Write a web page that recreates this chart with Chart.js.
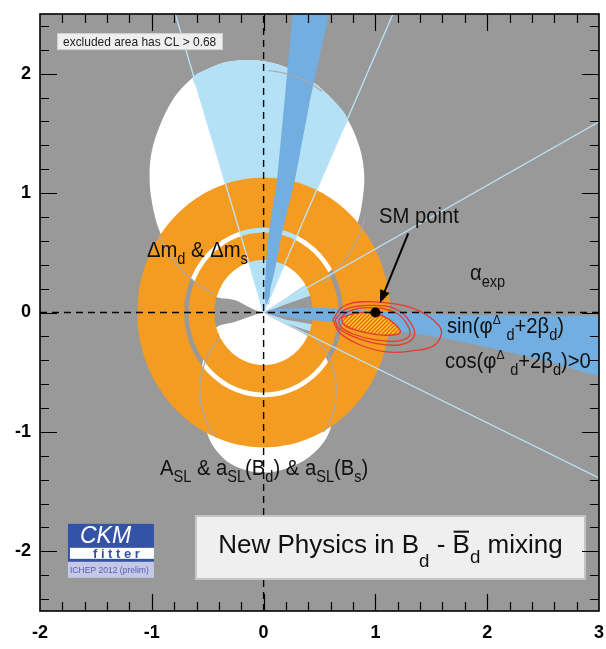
<!DOCTYPE html>
<html>
<head>
<meta charset="utf-8">
<script src="https://cdn.jsdelivr.net/npm/chart.js@4.4.0/dist/chart.umd.min.js"></script>
<style>
  html, body { margin: 0; padding: 0; background: #ffffff; }
  canvas { display: block; }
</style>
</head>
<body>
<canvas id="ckm" width="606" height="649"></canvas>
<script>
// ---- axes ----
const xRange = [-2, 3];
const yRange = [-2.5, 2.5];
const xTicks = [-2, -1, 0, 1, 2, 3];
const yTicks = [-2, -1, 0, 1, 2];

// ---- a_SL allowed region: two lobes meeting at the origin ----
const aslUpperLobe = [[0,0],[0.17,0.1],[0.34,0.21],[0.5,0.29],[0.62,0.37],[0.75,0.56],[0.85,0.78],[0.89,0.98],
  [0.9,1.16],[0.86,1.38],[0.75,1.62],[0.62,1.78],[0.44,1.93],[0.21,2.05],[-0.05,2.11],[-0.32,2.1],[-0.5,2.04],
  [-0.63,1.97],[-0.8,1.8],[-0.93,1.56],[-1.0,1.35],[-1.02,1.15],[-1.0,0.93],[-0.93,0.68],[-0.8,0.46],
  [-0.64,0.28],[-0.43,0.135],[-0.26,0.105],[-0.14,0.05],[-0.05,0.01],[0,0]];
const aslLowerLobe = [[0,0],[0.05,-0.03],[0.2,-0.1],[0.43,-0.22],[0.55,-0.36],[0.61,-0.55],[0.63,-0.76],
  [0.6,-0.97],[0.5,-1.13],[0.3,-1.27],[0,-1.34],[-0.27,-1.28],[-0.45,-1.12],[-0.53,-0.92],[-0.55,-0.7],
  [-0.55,-0.45],[-0.5,-0.28],[-0.43,-0.13],[-0.26,-0.08],[-0.14,-0.04],[-0.05,-0.01],[0,0]];
// individual a_SL circles: [centre x, centre y, radius] and visible arcs in degrees
const aslUpperCircle = [-0.04, 1.05, 0.98];
const aslUpperArcs = [[204, 246], [-55, -15], [55, 85]];
const aslLowerCircle = [0.04, -0.65, 0.61];
const aslLowerArcs = [[135, 222], [-35, 50]];

// ---- alpha constraint ----
const alphaWedgeUp = [[0,0],[0.37,0.8],[0.7,1.515],[0.75,1.62],[0.62,1.78],[0.44,1.93],[0.21,2.05],[-0.05,2.11],
  [-0.32,2.1],[-0.5,2.04],[-0.63,1.97],[-0.6,1.875],[-0.3,0.94],[0,0]];
const alphaSliverUp = [[0.02,0.01],[0.17,0.1],[0.34,0.21],[0.45,0.27],[0.45,0.15],[0.2,0.07],[0.05,0.015]];
const alphaSliverDown = [[0.04,-0.01],[0.2,-0.06],[0.45,-0.1],[0.45,-0.17],[0.2,-0.09],[0.06,-0.03]];
const alphaRayEnds = [[-0.79,2.5],[1.157,2.5],[3,1.598],[3,-1.386]];

// ---- Delta m_d & Delta m_s: two annuli around the origin [inner r, outer r] ----
const deltaMRings = [[0.44, 0.67], [0.71, 1.13]];

// ---- sin(phi_d + 2 beta_d) solutions ----
const sin2bStripe = [[0.02,0.07],[0.01,0.15],[0.02,0.4],[0.05,0.69],[0.12,1.11],[0.19,1.8],[0.26,2.5],
  [0.586,2.5],[0.42,1.8],[0.28,1.11],[0.17,0.69],[0.1,0.35],[0.06,0.2],[0.05,0.07]];
const sin2bBand = [[0.03,0.02],[0.3,0.04],[0.6,0.035],[1.0,0.01],[1.7,-0.02],[3,-0.03],
  [3,-0.535],[2.5,-0.4],[2.0,-0.29],[1.7,-0.23],[1.0,-0.12],[0.6,-0.08],[0.3,-0.05],[0.05,-0.01]];

// ---- combined fit ----
const fitCore = [[0.70,-0.044],[0.80,-0.01],[0.95,0.0],[1.07,-0.03],[1.18,-0.10],[1.22,-0.17],[1.10,-0.19],
  [0.92,-0.17],[0.77,-0.13],[0.71,-0.09],[0.70,-0.044]];
const fitMidA = [[0.67,-0.06],[0.76,0.01],[0.95,0.04],[1.18,0.0],[1.29,-0.11],[1.30,-0.2],[1.19,-0.24],
  [1.0,-0.23],[0.80,-0.18],[0.69,-0.12],[0.67,-0.06]];
const fitMidB = [[0.64,-0.06],[0.74,0.03],[0.95,0.06],[1.19,0.025],[1.33,-0.11],[1.34,-0.21],[1.22,-0.27],
  [1.01,-0.26],[0.80,-0.2],[0.67,-0.13],[0.64,-0.06]];
const fitOuter = [[0.62,-0.06],[0.71,0.05],[0.89,0.09],[1.19,0.07],[1.40,0.01],[1.56,-0.10],[1.59,-0.18],
  [1.52,-0.28],[1.34,-0.32],[1.10,-0.33],[0.86,-0.27],[0.68,-0.17],[0.62,-0.06]];
const smPoint = [1.0, 0.0];
const smArrow = [[1.294, 0.663], [1.041, 0.079]];

// ---- colours ----
const C = {
  bg: '#999999', white: '#ffffff', light: '#b4e1f5', dark: '#73aee0', orange: '#f49b21',
  red: '#e63b2b', ray: '#bde5f7', arc: '#a9a9a9'
};

// ---- helpers building library datasets ----
const toXY = arr => arr.map(([x, y]) => ({x, y}));
const rad = d => d * Math.PI / 180;
function ringOutline(r0, r1) {
  const p = [];
  for (let a = 0; a <= 360; a += 2) p.push([r1 * Math.cos(rad(a)), r1 * Math.sin(rad(a))]);
  for (let a = 360; a >= 0; a -= 2) p.push([r0 * Math.cos(rad(a)), r0 * Math.sin(rad(a))]);
  return p;
}
function arcOutline([cx, cy, r], [a0, a1]) {
  const p = [];
  for (let a = a0; a <= a1; a += 2) p.push([cx + r * Math.cos(rad(a)), cy + r * Math.sin(rad(a))]);
  return p;
}
function area(points, color, extra) {
  return Object.assign({data: toXY(points), fill: 'shape', backgroundColor: color,
    borderColor: 'rgba(0,0,0,0)', borderWidth: 0, pointRadius: 0, tension: 0}, extra || {});
}
function curve(points, color, width, extra) {
  return Object.assign({data: toXY(points), fill: false, borderColor: color,
    borderWidth: width, pointRadius: 0, tension: 0}, extra || {});
}

// hatched fill of the 68% region
function hatchPattern() {
  const c = document.createElement('canvas');
  c.width = 4; c.height = 4;
  const g = c.getContext('2d');
  g.fillStyle = '#f9d21e'; g.fillRect(0, 0, 4, 4);
  g.strokeStyle = '#ef5b24'; g.lineWidth = 1.3;
  g.beginPath();
  g.moveTo(-2, 2); g.lineTo(2, -2);
  g.moveTo(0, 4); g.lineTo(4, 0);
  g.moveTo(2, 6); g.lineTo(6, 2);
  g.stroke();
  return g.createPattern(c, 'repeat');
}

// layers, bottom first
const smooth = {tension: 0.35};
const layers = [];
layers.push(area(aslUpperLobe, C.white, smooth));
layers.push(area(aslLowerLobe, C.white, smooth));
layers.push(area(alphaWedgeUp, C.light, smooth));
layers.push(area(alphaSliverUp, C.light));
layers.push(area(alphaSliverDown, C.light));
deltaMRings.forEach(([r0, r1]) => layers.push(area(ringOutline(r0, r1), C.orange)));
layers.push(area(sin2bStripe, C.dark));
layers.push(area(sin2bBand, C.dark));
aslUpperArcs.forEach(a => layers.push(curve(arcOutline(aslUpperCircle, a), C.arc, 1.2)));
aslLowerArcs.forEach(a => layers.push(curve(arcOutline(aslLowerCircle, a), C.arc, 1.2)));
alphaRayEnds.forEach(e => layers.push(curve([[0, 0], e], C.ray, 1.3)));
layers.push(area(fitCore, hatchPattern(), {borderColor: C.red, borderWidth: 1.4, tension: 0.4}));
[fitMidA, fitMidB, fitOuter].forEach(c => layers.push(curve(c, C.red, 1.3, {tension: 0.4})));
layers.push(curve([[xRange[0], 0], [xRange[1], 0]], '#000', 1.4, {borderDash: [7, 5]}));
layers.push(curve([[0, yRange[0]], [0, yRange[1]]], '#000', 1.4, {borderDash: [7, 5]}));
layers.push({data: toXY([smPoint]), showLine: false, pointRadius: 5, pointBackgroundColor: '#000',
  pointBorderWidth: 0, borderColor: '#000'});
layers.forEach((d, i) => { d.order = layers.length - i; });

// ---- text annotations (data-space anchor = left end of the baseline) ----
const textLabels = [
  {at: [1.032, 0.75], size: 22, parts: [['SM point', 0]]},
  {at: [1.846, 0.272], size: 22, parts: [['\u03b1', 0], ['exp', -1]]},
  {at: [1.64, -0.17], size: 22, parts: [['sin(\u03c6', 0], ['\u0394', 1], [' ', 0], ['d', -1], ['+2\u03b2', 0], ['d', -1], [')', 0]]},
  {at: [1.623, -0.465], size: 22, parts: [['cos(\u03c6', 0], ['\u0394', 1], [' ', 0], ['d', -1], ['+2\u03b2', 0], ['d', -1], [')>0', 0]]},
  {at: [-1.043, 0.465], size: 22, parts: [['\u0394m', 0], ['d', -1], [' & \u0394m', 0], ['s', -1]]},
  {at: [-0.927, -1.36], size: 22, parts: [['A', 0], ['SL', -1], [' & a', 0], ['SL', -1], ['(B', 0], ['d', -1],
    [') & a', 0], ['SL', -1], ['(B', 0], ['s', -1], [')', 0]]}
];
const titleParts = [['New Physics in B', 0], ['d', -1, 0.55], [' - ', 0], ['B', 2], ['d', -1, 0.38], [' mixing', 0]];
const FONT = '"Liberation Sans", Arial, Helvetica, sans-serif';

function richWidth(ctx, parts, size) {
  let w = 0;
  for (const [t, m] of parts) {
    const fs = m < 0 ? size * 0.72 : m === 1 ? size * 0.6 : size;
    ctx.font = fs + 'px ' + FONT;
    w += ctx.measureText(t).width;
  }
  return w;
}
function drawRich(ctx, x, y, parts, size, sx, color) {
  ctx.save();
  ctx.translate(x, y);
  ctx.scale(sx, 1);
  ctx.fillStyle = color; ctx.strokeStyle = color;
  ctx.textBaseline = 'alphabetic'; ctx.textAlign = 'left';
  let cx = 0;
  for (const [t, m, dyf] of parts) {
    const fs = m < 0 ? size * 0.72 : m === 1 ? size * 0.6 : size;
    const dy = m < 0 ? size * (dyf != null ? dyf : 0.32) : m === 1 ? -size * 0.42 : 0;
    ctx.font = fs + 'px ' + FONT;
    ctx.fillText(t, cx, dy);
    const w = ctx.measureText(t).width;
    if (m === 2) {
      ctx.lineWidth = 2;
      ctx.beginPath();
      ctx.moveTo(cx + 1, -size * 0.82); ctx.lineTo(cx + w - 1, -size * 0.82);
      ctx.stroke();
    }
    cx += w;
  }
  ctx.restore();
}

const decorations = {
  id: 'decorations',
  beforeDatasetsDraw(chart) {
    const {ctx, chartArea: a} = chart;
    ctx.save();
    ctx.fillStyle = C.bg;
    ctx.fillRect(a.left, a.top, a.right - a.left, a.bottom - a.top);
    ctx.restore();
  },
  afterDatasetsDraw(chart) {
    const {ctx} = chart;
    const xs = chart.scales.x, ys = chart.scales.y;
    const px = v => xs.getPixelForValue(v), py = v => ys.getPixelForValue(v);

    // arrow to the SM point
    const [[ax0, ay0], [ax1, ay1]] = smArrow;
    const x0 = px(ax0), y0 = py(ay0), x1 = px(ax1), y1 = py(ay1);
    const ang = Math.atan2(y1 - y0, x1 - x0);
    ctx.save();
    ctx.strokeStyle = '#000'; ctx.fillStyle = '#000'; ctx.lineWidth = 2;
    ctx.beginPath(); ctx.moveTo(x0, y0);
    ctx.lineTo(x1 - 9 * Math.cos(ang), y1 - 9 * Math.sin(ang)); ctx.stroke();
    ctx.beginPath();
    ctx.moveTo(x1, y1);
    ctx.lineTo(x1 - 13 * Math.cos(ang) + 5 * Math.sin(ang), y1 - 13 * Math.sin(ang) - 5 * Math.cos(ang));
    ctx.lineTo(x1 - 13 * Math.cos(ang) - 5 * Math.sin(ang), y1 - 13 * Math.sin(ang) + 5 * Math.cos(ang));
    ctx.closePath(); ctx.fill();
    ctx.restore();

    // constraint labels
    textLabels.forEach(l => drawRich(ctx, px(l.at[0]), py(l.at[1]), l.parts, l.size, 0.92, '#111'));

    // CL note
    {
      const bx = px(-1.848), by = py(2.34), bw = px(-0.363) - bx, bh = py(2.198) - by;
      ctx.save();
      ctx.fillStyle = '#efefef'; ctx.fillRect(bx, by, bw, bh);
      ctx.strokeStyle = '#cfcfcf'; ctx.lineWidth = 1; ctx.strokeRect(bx + 0.5, by + 0.5, bw - 1, bh - 1);
      ctx.restore();
      drawRich(ctx, bx + 6, by + 13, [['excluded area has CL > 0.68', 0]], 13, 0.92, '#222');
    }

    // title box
    {
      const bx = px(-0.614), by = py(-1.696), bw = px(2.884) - bx, bh = py(-2.24) - by;
      ctx.save();
      ctx.fillStyle = '#efefef'; ctx.fillRect(bx, by, bw, bh);
      ctx.strokeStyle = '#c4c4c4'; ctx.lineWidth = 2; ctx.strokeRect(bx + 1, by + 1, bw - 2, bh - 2);
      ctx.restore();
      const tw = richWidth(ctx, titleParts, 26);
      drawRich(ctx, bx + (bw - tw) / 2, by + 38, titleParts, 26, 1, '#111');
    }

    // CKMfitter badge
    {
      const lx = px(-1.75), ly = py(-1.77), lw = 86;
      ctx.save();
      ctx.fillStyle = '#3553a6'; ctx.fillRect(lx, ly, lw, 38);
      ctx.fillStyle = '#ffffff'; ctx.fillRect(lx + 2, ly + 24, lw - 2, 11);
      ctx.fillStyle = '#c6c8e8'; ctx.fillRect(lx, ly + 38, lw, 16);
      ctx.fillStyle = '#ffffff';
      ctx.font = 'italic 23px ' + FONT;
      ctx.textBaseline = 'alphabetic';
      ctx.fillText('CKM', lx + 12, ly + 19.5);
      ctx.fillStyle = '#3553a6';
      ctx.font = 'bold 13px ' + FONT;
      let fx = lx + 25;
      for (const ch of 'fitter') { ctx.fillText(ch, fx, ly + 34); fx += ctx.measureText(ch).width + 3.6; }
      ctx.restore();
      drawRich(ctx, lx + 2, ly + 49, [['ICHEP 2012 (prelim)', 0]], 9, 0.95, '#5560b2');
    }
  },
  afterDraw(chart) {
    const {ctx, chartArea: a} = chart;
    const xs = chart.scales.x, ys = chart.scales.y;
    ctx.save();
    ctx.strokeStyle = '#000';
    ctx.lineWidth = 1.2;
    ctx.beginPath();
    for (let k = -10; k <= 15; k++) {
      const v = k / 5, x = Math.round(xs.getPixelForValue(v)) + 0.5;
      if (x <= a.left + 1 || x >= a.right - 1) continue;
      const len = k % 5 === 0 ? 17 : 9;
      ctx.moveTo(x, a.bottom); ctx.lineTo(x, a.bottom - len);
      ctx.moveTo(x, a.top); ctx.lineTo(x, a.top + len);
    }
    for (let k = -12; k <= 12; k++) {
      const v = k / 5, y = Math.round(ys.getPixelForValue(v)) + 0.5;
      const len = k % 5 === 0 ? 17 : 9;
      ctx.moveTo(a.left, y); ctx.lineTo(a.left + len, y);
      ctx.moveTo(a.right, y); ctx.lineTo(a.right - len, y);
    }
    ctx.stroke();
    ctx.lineWidth = 1.6;
    ctx.strokeRect(a.left, a.top, a.right - a.left, a.bottom - a.top);
    ctx.restore();
  }
};

// fixed frame: the axis boxes do not ask for extra room around the plot
function fixBox(size, key) {
  return s => {
    s[key] = size;
    s.paddingLeft = 0; s.paddingRight = 0; s.paddingTop = 0; s.paddingBottom = 0;
  };
}

const tickFont = {family: FONT, size: 18, weight: 'bold'};
new Chart(document.getElementById('ckm'), {
  type: 'line',
  data: {datasets: layers},
  options: {
    responsive: false,
    animation: false,
    events: [],
    layout: {padding: {top: 14, right: 7, left: 0, bottom: 0}},
    plugins: {legend: {display: false}, tooltip: {enabled: false}},
    scales: {
      x: {
        type: 'linear', position: 'bottom', min: xRange[0], max: xRange[1],
        afterBuildTicks: s => { s.ticks = xTicks.map(v => ({value: v})); },
        afterFit: fixBox(38, 'height'),
        ticks: {font: tickFont, color: '#000', padding: 11, maxRotation: 0, autoSkip: false},
        grid: {display: false, drawTicks: false},
        border: {display: false}
      },
      y: {
        type: 'linear', position: 'left', min: yRange[0], max: yRange[1],
        afterBuildTicks: s => { s.ticks = yTicks.map(v => ({value: v})); },
        afterFit: fixBox(40, 'width'),
        ticks: {font: tickFont, color: '#000', padding: 9, autoSkip: false},
        grid: {display: false, drawTicks: false},
        border: {display: false}
      }
    }
  },
  plugins: [decorations]
});
</script>
</body>
</html>
